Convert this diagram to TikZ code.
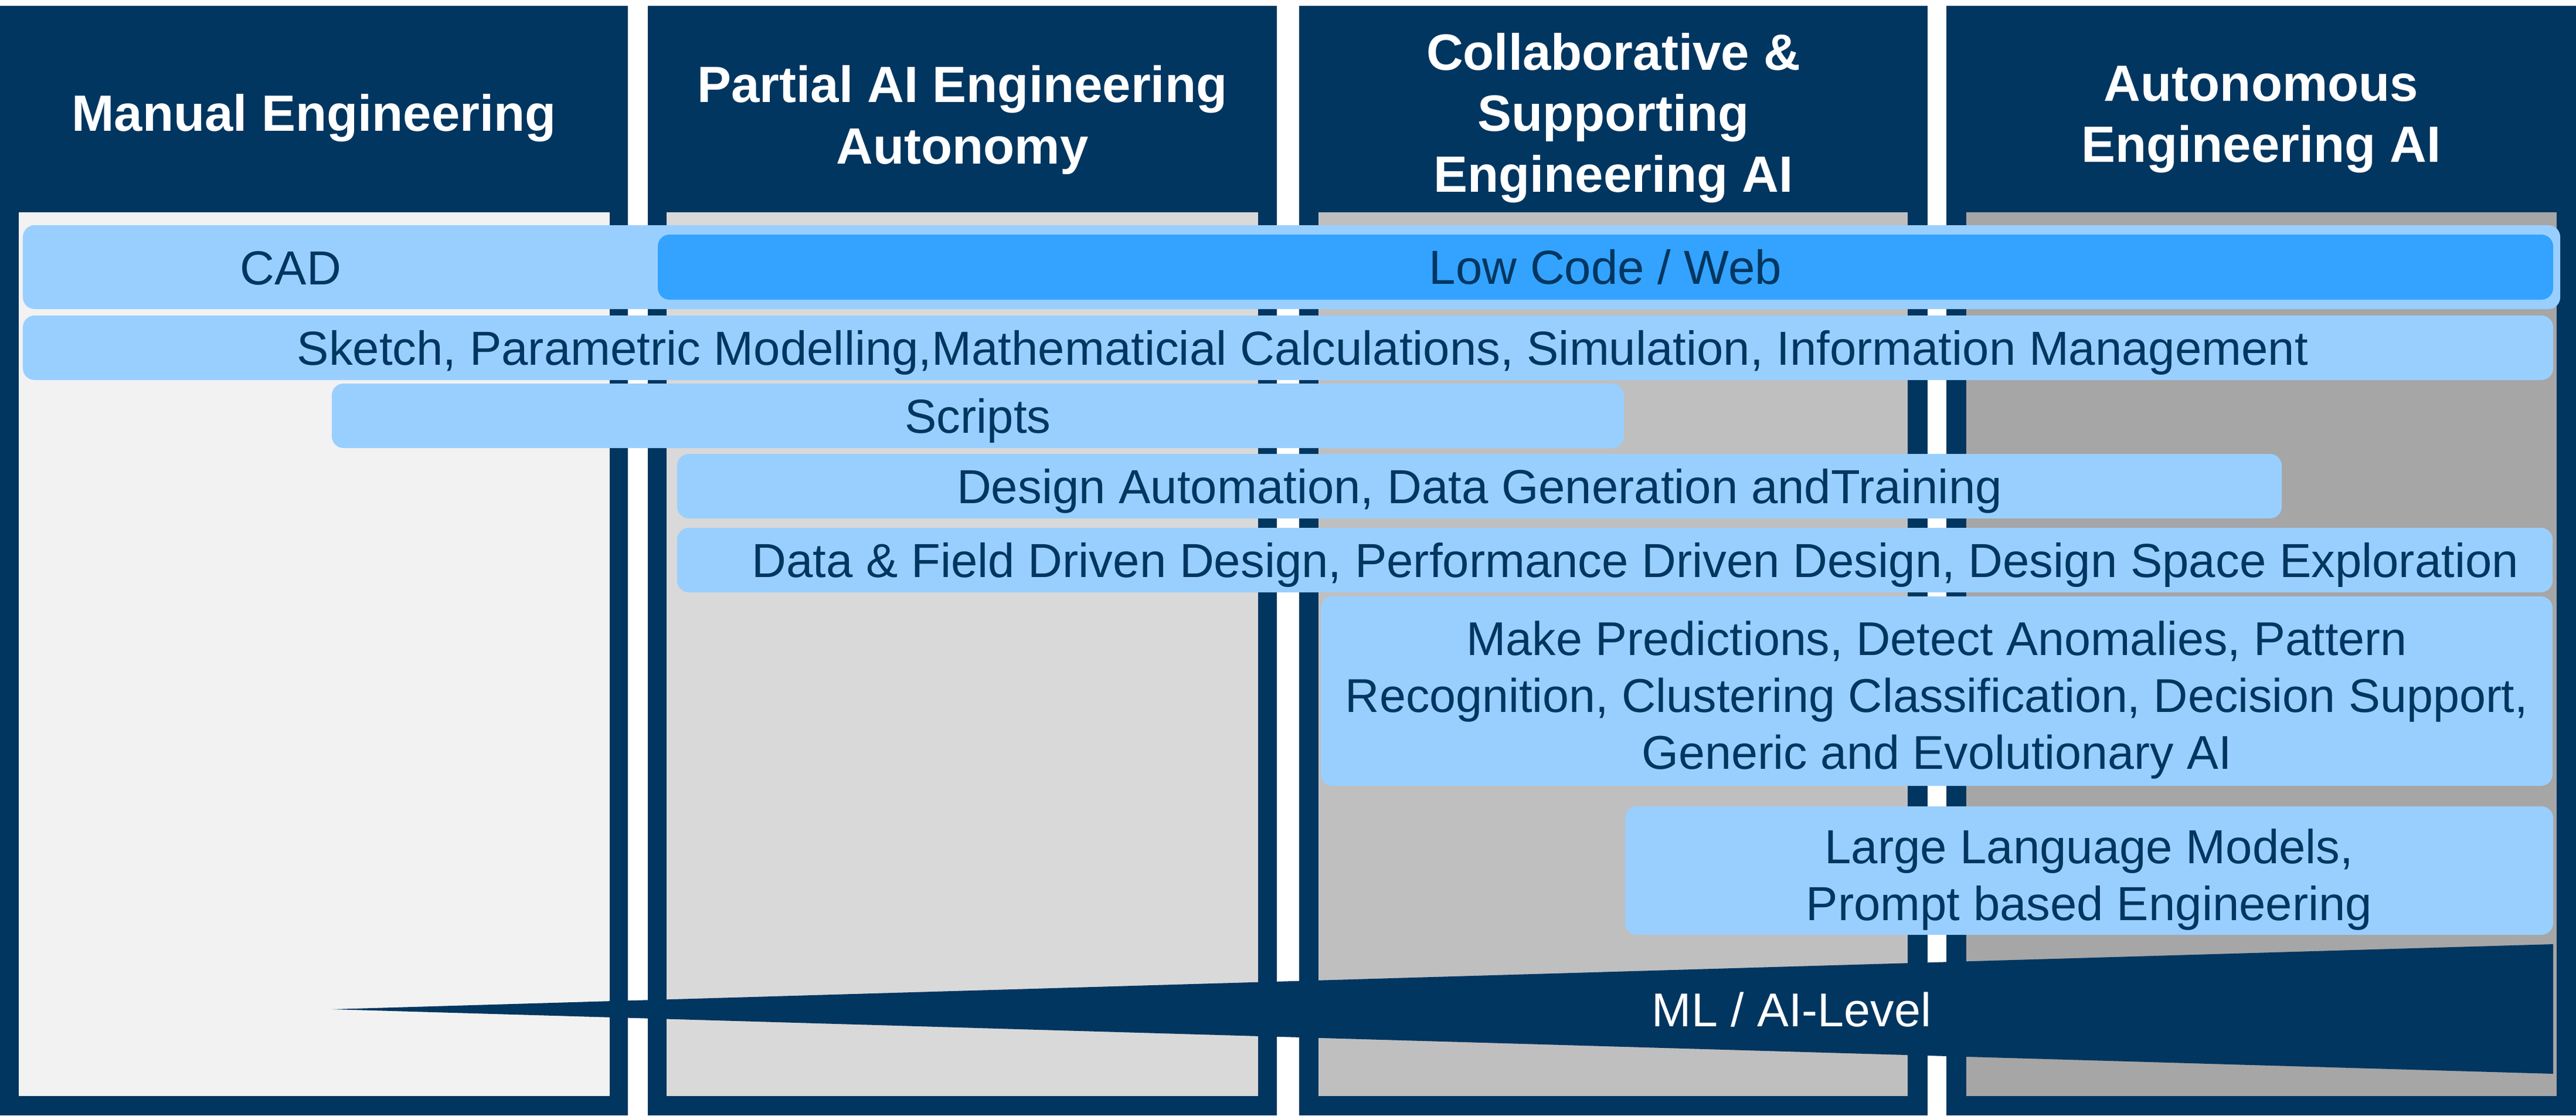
\documentclass[tikz,border=0pt]{standalone}
\usepackage{fontspec}
\setmainfont{Liberation Sans}
\usepackage{tikz}
\usetikzlibrary{positioning}

\definecolor{navy}{RGB}{0,54,96}
\definecolor{lightbar}{RGB}{153,207,255}
\definecolor{brightbar}{RGB}{51,163,255}
\definecolor{grayA}{HTML}{F2F2F2}
\definecolor{grayB}{HTML}{D9D9D9}
\definecolor{grayC}{HTML}{BFBFBF}
\definecolor{grayD}{HTML}{A6A6A6}

\tikzset{
  colhead/.style={text=white, align=center, inner sep=0pt,
    font=\fontsize{24.75}{29.6}\selectfont\bfseries},
  barlight/.style={rectangle, rounded corners=0.2cm, fill=lightbar, inner sep=0pt,
    text=navy, align=center, font=\fontsize{23.2}{27.6}\selectfont},
  bardark/.style={barlight, fill=brightbar},
  oneline/.style={text height=16.6pt, text depth=0pt},
}

\begin{document}
\begin{tikzpicture}
\useasboundingbox (0,0) rectangle (43.94,-19.02);
\fill[white] (0,0) rectangle (43.94,-19.02);

\fill[navy] (0,-0.10) rectangle (10.71,-19.02);
\fill[grayA] (0.32,-3.62) rectangle (10.40,-18.69);
\fill[navy] (11.05,-0.10) rectangle (21.78,-19.02);
\fill[grayB] (11.37,-3.62) rectangle (21.46,-18.69);
\fill[navy] (22.16,-0.10) rectangle (32.88,-19.02);
\fill[grayC] (22.49,-3.62) rectangle (32.54,-18.69);
\fill[navy] (33.20,-0.10) rectangle (43.94,-19.02);
\fill[grayD] (33.54,-3.62) rectangle (43.61,-18.69);

\node[colhead] (manual) at (5.355,-2.01)
  {Manual Engineering};
\node[colhead] (partial) at (16.415,-2.045)
  {Partial AI Engineering\\Autonomy};
\node[colhead] (collab) at (27.52,-2.01)
  {Collaborative \&\\Supporting\\Engineering AI};
\node[colhead] (autonomous) at (38.57,-2.035)
  {Autonomous\\Engineering AI};

\node[barlight, minimum width=43.28cm, minimum height=1.43cm] (cadbar) at (22.03,-4.555) {};
\node[barlight, oneline, fill=none] (cad) at (4.96,-4.56) {CAD};
\node[bardark, oneline, minimum width=32.33cm, minimum height=1.11cm] (lowcode) at (27.385,-4.555)
  {Low Code / Web};
\node[barlight, oneline, minimum width=43.16cm, minimum height=1.10cm] (sketch) at (21.97,-5.93)
  {\hspace{0.5cm}Sketch, Parametric Modelling,Mathematicial Calculations, Simulation, Information Management};
\node[barlight, oneline, minimum width=22.04cm, minimum height=1.10cm] (scripts) at (16.68,-7.09)
  {Scripts};
\node[barlight, oneline, minimum width=27.37cm, minimum height=1.10cm] (designauto) at (25.235,-8.29)
  {Design Automation, Data Generation andTraining};
\node[barlight, oneline, minimum width=31.99cm, minimum height=1.10cm] (datafield) at (27.545,-9.55)
  {\hspace{0.7cm}Data \& Field Driven Design, Performance Driven Design, Design Space Exploration};
\node[barlight, minimum width=21.01cm, minimum height=3.23cm] (predict) at (33.035,-11.785) {};
\node[text=navy, align=center, inner sep=0pt, font=\fontsize{23}{27.6}\selectfont] (predicttext)
  at ([yshift=-0.15cm]predict.center)
  {Make Predictions, Detect Anomalies, Pattern\\Recognition, Clustering Classification, Decision Support,\\Generic and Evolutionary AI};
\node[barlight, minimum width=15.83cm, minimum height=2.19cm] (llm) at (35.635,-14.845) {};
\node[text=navy, align=center, inner sep=0pt, font=\fontsize{23.2}{27.6}\selectfont] (llmtext)
  at ([yshift=-0.15cm]llm.center)
  {Large Language Models,\\Prompt based Engineering};

\fill[navy] (5.67,-17.21) -- (43.55,-16.10) -- (43.55,-18.31) -- cycle;
\node[text=white, oneline, inner sep=0pt, font=\fontsize{23}{27.6}\selectfont] (mllevel) at (30.56,-17.21)
  {ML / AI-Level};

\end{tikzpicture}
\end{document}
